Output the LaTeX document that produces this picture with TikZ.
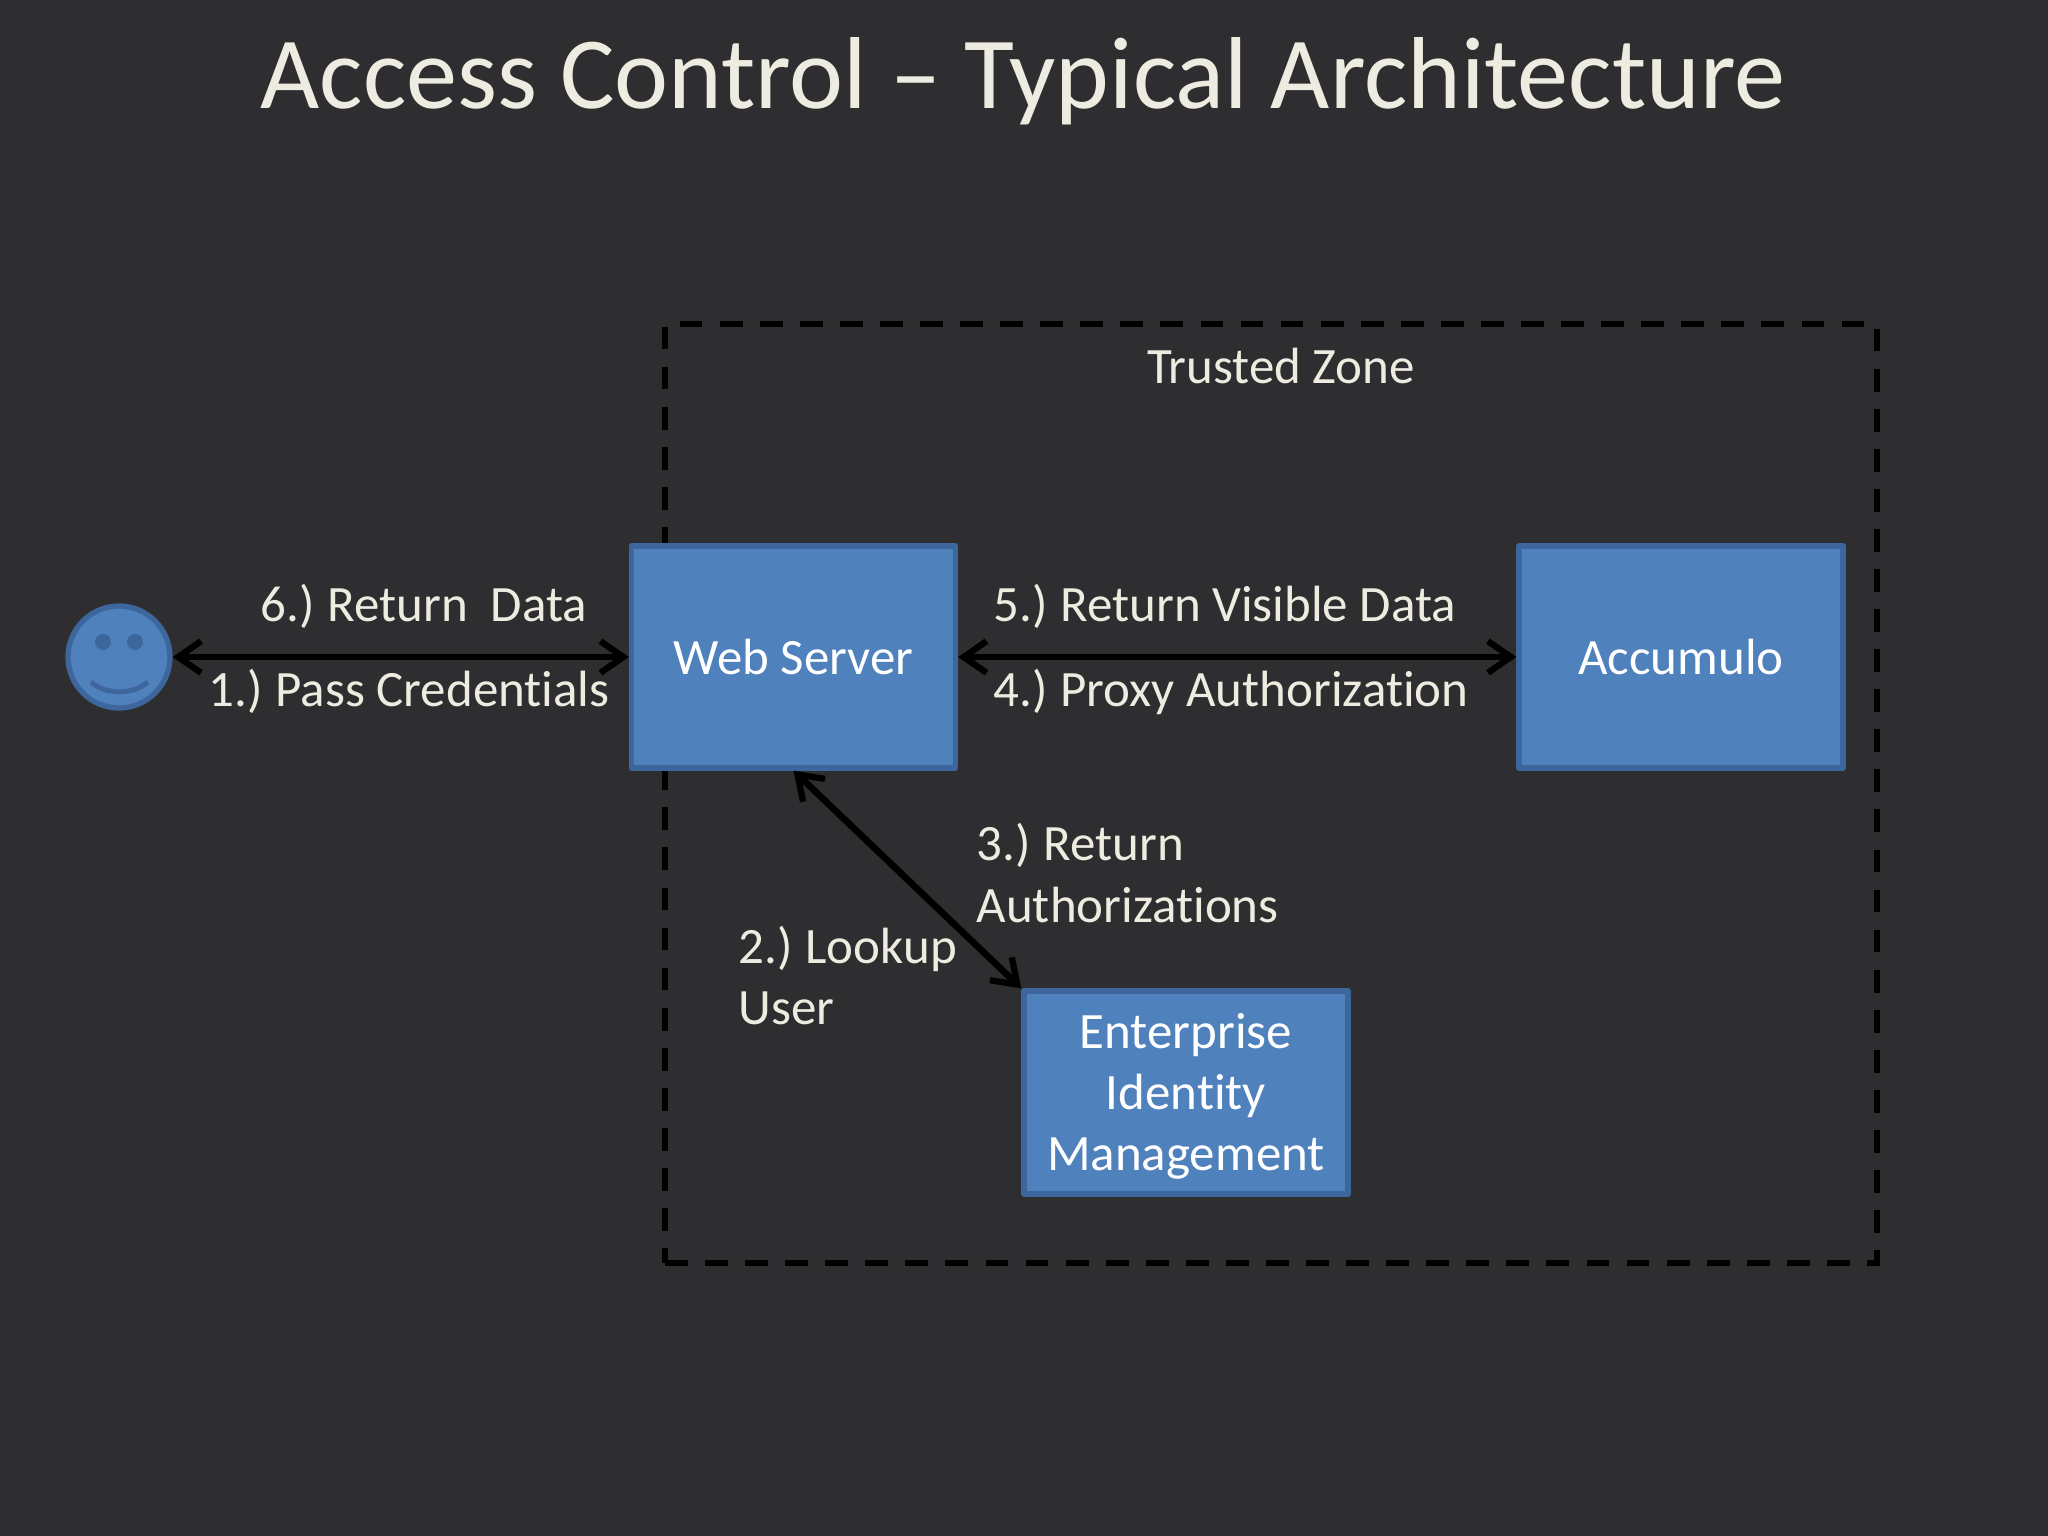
\documentclass[tikz,border=0pt]{standalone}
\usepackage{fontspec}
\setmainfont{Carlito}[Ligatures=NoCommon]
\usetikzlibrary{arrows.meta,calc}
\definecolor{slidebg}{HTML}{2E2E30}
\definecolor{boxfill}{HTML}{4F81BD}
\definecolor{boxedge}{HTML}{3D679C}
\definecolor{labeltext}{HTML}{EEECE1}
\newcommand{\stepno}[1]{#1.)\kern.35pt\ }
\tikzset{
    >={Straight Barb[length=6.5pt,width=9pt,line width=1.8pt]},
    block/.style = {draw=boxedge, fill=boxfill, line width=1.5pt, line join=round, rectangle,
        minimum width=3.24cm, minimum height=2.22cm, inner sep=0pt,
        text=white, align=center, font=\fontsize{14.5}{17.4}\selectfont},
    steplabel/.style = {text=labeltext, inner sep=0pt, align=left, anchor=base west,
        font=\fontsize{14.5}{17.4}\selectfont},
    link/.style = {draw=black, <->, line width=1.9pt}
}
\begin{document}
\begin{tikzpicture}[x=1cm,y=-1cm]
    \fill[slidebg] (0,0) rectangle (20.48,15.36);
    \useasboundingbox (0,0) rectangle (20.48,15.36);
    \node[text=labeltext, inner sep=0pt, anchor=base, font=\fontsize{29.1}{35}\selectfont] (title) at (10.23,1.09) {Access Control -- Typical Architecture};
    % trusted zone sits behind the boxes
    \node[draw=black, line width=1.7pt, dash pattern=on 6.5pt off 4.9pt, minimum width=12.12cm, minimum height=9.39cm, inner sep=0pt] (zone) at (12.71,7.935) {};
    \node[text=labeltext, inner sep=0pt, anchor=base, font=\fontsize{14.5}{17.4}\selectfont] (zonelabel) at (12.81,3.84) {Trusted Zone};
    \node[block, text height=10pt] (web) at (7.935,6.57) {Web Server};
    \node[block, text height=10pt] (acc) at (16.81,6.57) {Accumulo};
    \node[block, minimum height=2.03cm] (eim) at (11.86,10.925) {\rule{0pt}{12.2pt}Enterprise\\Identity\\Management};
    % smiley
    \node[draw=boxedge, fill=boxfill, line width=1.5pt, circle, minimum size=1.02cm, inner sep=0pt] (user) at (1.19,6.57) {};
    \fill[boxedge] (1.03,6.42) circle (.08);
    \fill[boxedge] (1.35,6.42) circle (.08);
    \draw[boxedge, line width=1.4pt] (.91,6.82) .. controls (1.05,6.95) and (1.33,6.95) .. (1.48,6.82);
    \draw[link] (user) -- (web);
    \draw[link] (web) -- (acc);
    \draw[link] (web.south) -- (eim.north west);
    \node[steplabel] (ret) at (2.60,6.22) {\stepno{6}Return\ \ Data};
    \node[steplabel] (pass) at (2.08,7.07) {\stepno{1}Pass Credentials};
    \node[steplabel] (vis) at (9.93,6.22) {\stepno{5}Return Visible Data};
    \node[steplabel] (proxy) at (9.93,7.07) {\stepno{4}Proxy Authorization};
    \node[steplabel] (auth) at (9.76,8.60) {\stepno{3}Return};
    \node[steplabel] (auth2) at (9.76,9.22) {Authorizations};
    \node[steplabel] (look) at (7.38,9.63) {\stepno{2}Lookup};
    \node[steplabel] (look2) at (7.38,10.24) {User};
\end{tikzpicture}
\end{document}
